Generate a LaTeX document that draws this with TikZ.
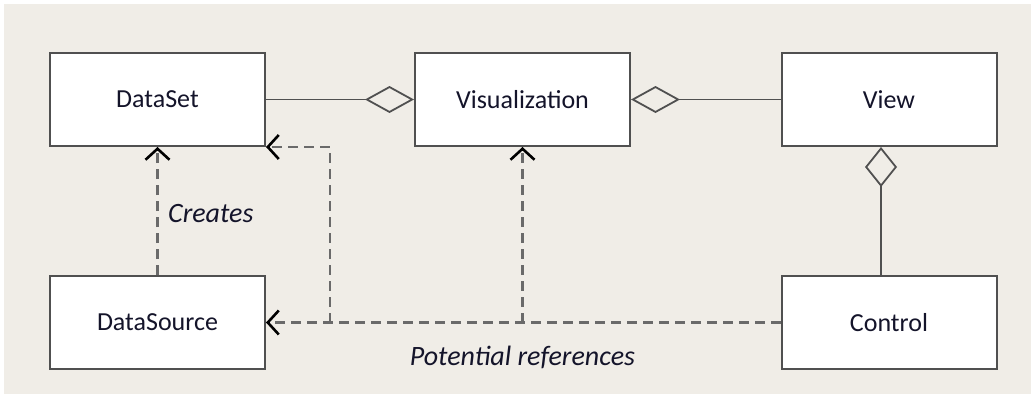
\documentclass[tikz,border=0pt]{standalone}
\usepackage{fontspec}
\setmainfont{Carlito}
\usetikzlibrary{arrows.meta}
\definecolor{paper}{HTML}{F0EDE7}
\definecolor{edge}{HTML}{505050}
\definecolor{dash}{HTML}{6A6A6A}
\definecolor{ink}{HTML}{14142A}

\begin{document}
\begin{tikzpicture}[x=1pt,y=-1pt,
    cls/.style={draw=edge,line width=2pt,fill=white,minimum width=215pt,minimum height=93pt,
        inner sep=0pt,text=ink,font=\fontsize{26}{30}\selectfont},
    aggr/.style={draw=edge,line width=1.8pt,-{Diamond[open,length=49pt,width=27pt,line width=1.8pt]}},
    aggrv/.style={draw=edge,line width=1.8pt,-{Diamond[open,length=40pt,width=32pt,line width=1.8pt]}},
    ref/.style={draw=dash,line width=2.6pt,dash pattern=on 10pt off 6pt},
    refarrow/.style={ref,-{Straight Barb[length=11pt,width=24pt,line width=2.6pt,color=black]}},
    lbl/.style={text=ink,font=\fontsize{28}{32}\selectfont\itshape}]
    \fill[paper] (4,4) rectangle (1031,394);
    \useasboundingbox (0,0) rectangle (1031,396);
    % classes
    \node[cls] (dataset) at (157.5,99.5) {DataSet};
    \node[cls] (vis) at (522.5,99.5) {Visualization};
    \node[cls] (view) at (889,99.5) {View};
    \node[cls] (datasource) at (157.5,322.5) {DataSource};
    \node[cls] (control) at (889,322.5) {Control};
    % aggregations
    \draw[aggr] (dataset.east) -- (vis.west);
    \draw[aggr] (view.west) -- (vis.east);
    \draw[aggrv] ([xshift=-8pt]control.north) -- ([xshift=-8pt]view.south);
    % dependencies
    \draw[refarrow] (datasource.north) -- (dataset.south) node[lbl,pos=.48,anchor=west,xshift=6pt] (creates) {Creates};
    \coordinate (j1) at (330,322.5);
    \coordinate (j2) at (522.5,322.5);
    \draw[refarrow] (control.west) -- (datasource.east);
    \draw[refarrow] (j1) |- (dataset.south east);
    \draw[refarrow] (j2) -- (vis.south);
    \node[lbl] (potential) at (522.5,357) {Potential references};
\end{tikzpicture}
\end{document}
